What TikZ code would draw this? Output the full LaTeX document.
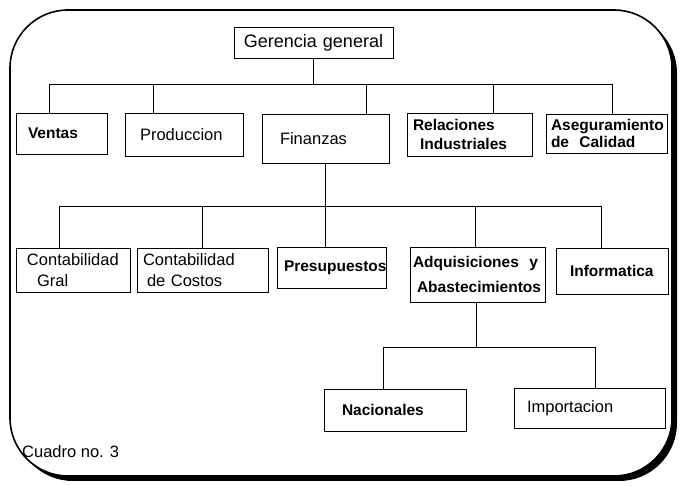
\documentclass[tikz,border=0pt]{standalone}
\usepackage{fontspec}
\setmainfont{Liberation Sans}
\begin{document}
\begin{tikzpicture}[x=1pt,y=-1pt,
  box/.style={draw, line width=0.8pt, inner ysep=0pt, align=left,
    font=\fontsize{16.5}{19}\selectfont},
  boldbox/.style={box, font=\fontsize{15.5}{19}\selectfont\bfseries},
  link/.style={line width=0.9pt}]
\useasboundingbox (0,0) rectangle (681,486);

% outer frame with its drop shadow
\fill[black, rounded corners=58pt] (15,15) rectangle (677,481);
\filldraw[fill=white, draw=black, line width=1.6pt, rounded corners=58pt]
  (10,10) rectangle (672,476);

% top level
\node[box, minimum height=31pt, text width=151pt, inner xsep=4pt, align=center,
  font=\fontsize{18}{19}\selectfont] (ger) at (313.5,42.5) {Gerencia general};

% first level
\node[boldbox, minimum height=41pt, text width=67pt, inner xsep=12pt] (ventas) at (61.5,133.5) {Ventas};
\node[box, minimum height=43pt, text width=88pt, inner xsep=15pt] (prod) at (184,134.5) {Produccion};
\node[box, minimum height=49pt, text width=91pt, inner xsep=18pt] (fin) at (325.5,138.5) {Finanzas};
\node[boldbox, minimum height=43pt, text width=113pt, inner xsep=6pt] (rel) at (469.5,134.5)
  {Relaciones\\\hspace*{7pt}Industriales};
\node[boldbox, minimum height=39pt, text width=111pt, inner xsep=5pt,
  font=\fontsize{15.5}{17.5}\selectfont\bfseries] (aseg) at (606.5,133.5)
  {Aseguramiento\\de\ \ Calidad};

% second level, under Finanzas
\node[box, minimum height=44pt, text width=92pt, inner xsep=11pt,
  font=\fontsize{16.5}{21}\selectfont] (cgral) at (73,270)
  {Contabilidad\\\hspace*{10pt}Gral};
\node[box, minimum height=44pt, text width=119pt, inner xsep=6pt,
  font=\fontsize{16.5}{21}\selectfont] (ccost) at (202.5,270)
  {Contabilidad\\\hspace*{4pt}de Costos};
\node[boldbox, minimum height=41pt, text width=95pt, inner xsep=7pt] (pres) at (331.5,267.5) {Presupuestos};
\node[boldbox, minimum height=55pt, text width=129pt, inner xsep=3pt,
  font=\fontsize{15.5}{25}\selectfont\bfseries] (adq) at (477.5,274.5)
  {Adquisiciones\ \ y\\\hspace*{4pt}Abastecimientos};
\node[boldbox, minimum height=46pt, text width=84pt, inner xsep=14pt] (info) at (612,271) {Informatica};

% third level, under Adquisiciones y Abastecimientos
\node[boldbox, minimum height=42pt, text width=106pt, inner xsep=18pt] (nac) at (395,410) {Nacionales};
\node[box, minimum height=40pt, text width=125pt, inner xsep=13pt] (imp) at (589.5,408) {Importacion};

% bus lines and drop points
\coordinate (a1) at (49,84);  \coordinate (a2) at (153,84);
\coordinate (a3) at (366,84); \coordinate (a4) at (493,84);
\coordinate (a5) at (612,84);
\coordinate (b1) at (59,206);  \coordinate (b2) at (202,206);
\coordinate (b3) at (325,206); \coordinate (b4) at (475,206);
\coordinate (b5) at (601,206);
\coordinate (c1) at (383,347); \coordinate (c2) at (476,347);
\coordinate (c3) at (595,347);

% connectors from Gerencia general
\draw[link] (ger.south) -- (ger.south |- a1);
\draw[link] (a1) -- (a5);
\draw[link] (a1) -- (ventas.north -| a1);
\draw[link] (a2) -- (prod.north -| a2);
\draw[link] (a3) -- (fin.north -| a3);
\draw[link] (a4) -- (rel.north -| a4);
\draw[link] (a5) -- (aseg.north -| a5);

% connectors from Finanzas
\draw[link] (fin.south -| b3) -- (b3);
\draw[link] (b1) -- (b5);
\draw[link] (b1) -- (cgral.north -| b1);
\draw[link] (b2) -- (ccost.north -| b2);
\draw[link] (b3) -- (pres.north -| b3);
\draw[link] (b4) -- (adq.north -| b4);
\draw[link] (b5) -- (info.north -| b5);

% connectors from Adquisiciones y Abastecimientos
\draw[link] (adq.south -| c2) -- (c2);
\draw[link] (c1) -- (c3);
\draw[link] (c1) -- (nac.north -| c1);
\draw[link] (c3) -- (imp.north -| c3);

% caption
\node[anchor=west, inner sep=0pt, font=\fontsize{16.5}{19}\selectfont] (cap) at (22,452) {Cuadro no. 3};
\end{tikzpicture}
\end{document}
